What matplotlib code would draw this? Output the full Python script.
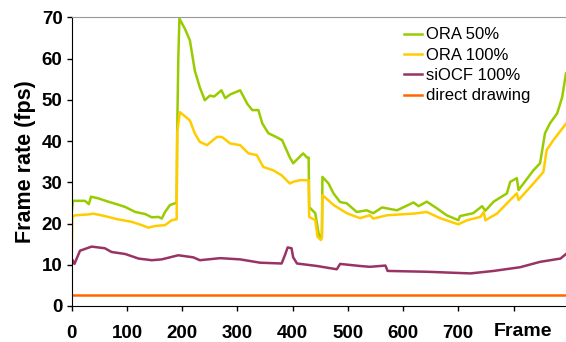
import matplotlib.pyplot as plt

plt.rcParams['font.family'] = ['Liberation Sans', 'DejaVu Sans']

# ORA 50%
green_f = [0, 2, 24, 31, 35, 48, 66, 81, 97, 115, 133, 145, 157, 163, 169, 178, 187, 190,
           191, 193, 195, 205, 214, 223, 232, 241, 250, 258, 271, 278, 287, 305, 318, 327,
           338, 345, 356, 370, 381, 395, 401, 410, 419, 426, 429, 430, 441, 447, 451, 453,
           454, 465, 474, 486, 498, 516, 534, 546, 562, 589, 619, 628, 643, 661, 679, 700,
           703, 727, 743, 749, 764, 788, 794, 806, 809, 836, 848, 857, 866, 879, 888, 895]
green_v = [22.5, 25.5, 25.5, 24.7, 26.5, 26.1, 25.3, 24.7, 24.0, 22.8, 22.3, 21.5, 21.6, 21.2,
           22.8, 24.5, 24.9, 25.0, 42.0, 60.0, 69.7, 67.2, 64.4, 57.0, 53.0, 49.9, 51.0, 50.8,
           52.3, 50.4, 51.3, 52.3, 49.0, 47.5, 47.5, 44.3, 41.9, 41.0, 40.2, 36.0, 34.6, 35.8,
           37.0, 36.0, 36.0, 24.0, 22.5, 17.6, 16.4, 17.0, 31.3, 29.7, 27.3, 25.2, 24.9, 22.8,
           23.2, 22.5, 23.9, 23.2, 25.1, 24.2, 25.3, 23.7, 22.0, 20.8, 21.8, 22.5, 24.2, 23.1,
           25.3, 27.3, 30.1, 31.0, 28.1, 32.9, 34.6, 41.9, 44.3, 46.7, 50.6, 56.4]

# ORA 100%
yellow_f = [0, 1, 6, 30, 39, 60, 84, 109, 127, 139, 151, 169, 181, 189, 190, 191, 196, 214,
            223, 232, 245, 263, 272, 287, 305, 320, 335, 347, 365, 380, 395, 401, 413, 429,
            430, 441, 445, 451, 453, 454, 474, 498, 522, 540, 546, 571, 619, 643, 667, 700,
            716, 740, 746, 749, 770, 794, 806, 809, 836, 854, 860, 872, 895]
yellow_v = [11.9, 21.6, 22.0, 22.2, 22.4, 21.8, 21.0, 20.4, 19.6, 19.0, 19.4, 19.6, 20.8, 21.0,
            21.0, 42.0, 47.0, 45.0, 41.8, 39.8, 39.0, 41.0, 41.0, 39.4, 39.0, 37.0, 36.6, 33.7,
            32.9, 31.7, 29.7, 30.1, 30.5, 30.5, 21.6, 20.8, 16.8, 16.0, 16.5, 26.9, 24.5, 22.5,
            21.3, 22.0, 21.2, 22.0, 22.4, 22.8, 21.3, 19.8, 20.8, 21.6, 22.8, 20.8, 22.4, 25.7,
            27.3, 25.7, 29.7, 32.5, 37.8, 40.2, 44.2]

# siOCF 100%
purple_f = [0, 5, 9, 15, 36, 60, 72, 97, 121, 145, 163, 193, 220, 232, 269, 305, 341, 380,
            386, 391, 398, 401, 408, 444, 480, 486, 522, 540, 568, 572, 643, 722, 764, 812,
            848, 885, 895]
purple_v = [11.5, 10.2, 11.5, 13.4, 14.4, 14.0, 13.1, 12.6, 11.5, 11.1, 11.3, 12.3, 11.8, 11.1,
            11.6, 11.3, 10.5, 10.3, 12.3, 14.2, 14.0, 11.8, 10.3, 9.7, 8.9, 10.2, 9.7, 9.5,
            9.8, 8.5, 8.3, 7.9, 8.5, 9.4, 10.7, 11.5, 12.6]

# direct drawing
orange_f = [0, 895]
orange_v = [2.7, 2.7]

fig = plt.figure(figsize=(5.66, 3.42), dpi=100)
ax = fig.add_axes([0.1267, 0.1053, 0.8733, 0.8441])

ax.plot(green_f, green_v, color='#99CC00', lw=1.8, label='ORA 50%')
ax.plot(yellow_f, yellow_v, color='#FFCC00', lw=1.8, label='ORA 100%')
ax.plot(purple_f, purple_v, color='#993366', lw=1.8, label='siOCF 100%')
ax.plot(orange_f, orange_v, color='#FF6600', lw=1.8, label='direct drawing')

ax.set_xlim(0, 895)
ax.set_ylim(0, 70)
ax.set_xticks([0, 100, 200, 300, 400, 500, 600, 700, 800])
ax.set_xticklabels(['0', '100', '200', '300', '400', '500', '600', '700', ''])
ax.set_yticks(range(0, 71, 10))
ax.tick_params(direction='out', length=3.6, width=1, labelsize=13.5)
ax.tick_params(axis='x', pad=10)
ax.tick_params(axis='y', pad=3)
for lbl in ax.get_xticklabels() + ax.get_yticklabels():
    lbl.set_fontweight('bold')

ax.spines['right'].set_visible(False)
ax.spines['top'].set_color('#999999')
ax.spines['left'].set_color('black')
ax.spines['bottom'].set_color('black')

ax.set_ylabel('Frame rate (fps)', fontsize=15.5, fontweight='bold', labelpad=4)
ax.annotate('Frame', xy=(817, 0), xycoords=('data', 'axes fraction'),
            xytext=(0, -12.5), textcoords='offset points', ha='center', va='top',
            fontsize=14, fontweight='bold')

ax.legend(loc='upper left', bbox_to_anchor=(0.672, 0.965), frameon=False, fontsize=12,
          handlelength=1.1, handletextpad=0.25, labelspacing=0.32, borderpad=0,
          borderaxespad=0)

fig.savefig('out.png', dpi=100)
